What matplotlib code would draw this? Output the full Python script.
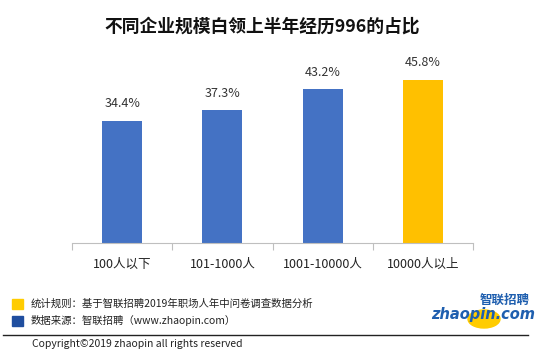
import matplotlib.pyplot as plt
from matplotlib.patches import Rectangle, Ellipse
from matplotlib.lines import Line2D

plt.rcParams['font.family'] = ['Noto Sans CJK SC', 'DejaVu Sans']

categories = ["100人以下", "101-1000人", "1001-10000人", "10000人以上"]
values = [34.4, 37.3, 43.2, 45.8]
colors = ["#4472C4", "#4472C4", "#4472C4", "#FFC000"]

title = "不同企业规模白领上半年经历996的占比"
note_rule = "统计规则：基于智联招聘2019年职场人年中问卷调查数据分析"
note_source = "数据来源：智联招聘（www.zhaopin.com）"
copyright_text = "Copyright©2019 zhaopin all rights reserved"

W, H = 550, 359
fig = plt.figure(figsize=(W / 100, H / 100), dpi=100)

def fx(x):
    return x / W

def fy(y):
    return 1 - y / H

ax = fig.add_axes([fx(72), fy(243), fx(473) - fx(72), fy(65) - fy(243)])
x = list(range(len(values)))
ax.bar(x, values, width=0.4, color=colors)
for xi, v in zip(x, values):
    ax.text(xi, v + 3.0, f"{v:.1f}%", ha="center", va="bottom", fontsize=9, color="#333333")

ax.set_xlim(-0.5, 3.5)
ax.set_ylim(0, 50)
for s in ["top", "right", "left"]:
    ax.spines[s].set_visible(False)
ax.spines["bottom"].set_color("#BFBFBF")
ax.set_yticks([])
ax.set_xticks([-0.5, 0.5, 1.5, 2.5, 3.5])
ax.set_xticklabels([])
ax.tick_params(axis="x", length=5, color="#BFBFBF")
for xi, c in zip(x, categories):
    ax.text(xi, -5.9, c, ha="center", va="center", fontsize=9, color="#222222")

fig.text(fx(262), fy(27), title, ha="center", va="center", fontsize=12.8, fontweight="bold", color="#111111")

fig.patches.append(Rectangle((fx(12), fy(309)), fx(11), fy(299) - fy(309), color="#FFCC00", transform=fig.transFigure))
fig.patches.append(Rectangle((fx(12), fy(326)), fx(11), fy(316) - fy(326), color="#1F4E9F", transform=fig.transFigure))
fig.text(fx(31), fy(304), note_rule, ha="left", va="center", fontsize=7.5, color="#222222")
fig.text(fx(31), fy(321), note_source, ha="left", va="center", fontsize=7.5, color="#222222")
fig.lines.append(Line2D([fx(3), fx(528)], [fy(335), fy(335)], color="#222222", lw=1, transform=fig.transFigure))
fig.text(fx(32), fy(344), copyright_text, ha="left", va="center", fontsize=7.5, color="#222222")

# logo
fig.patches.append(Ellipse((fx(484), fy(319)), fx(32), fy(310) - fy(328), color="#FFCC00", transform=fig.transFigure))
fig.text(fx(505), fy(300), "智联招聘", ha="center", va="center", fontsize=9, fontweight="bold", style="italic", color="#1F5FAF")
fig.text(fx(483), fy(315), "zhaopin.com", ha="center", va="center", fontsize=10.5, fontweight="bold", style="italic", color="#1F5FAF", family="DejaVu Sans")

fig.savefig("out.png", dpi=100)
